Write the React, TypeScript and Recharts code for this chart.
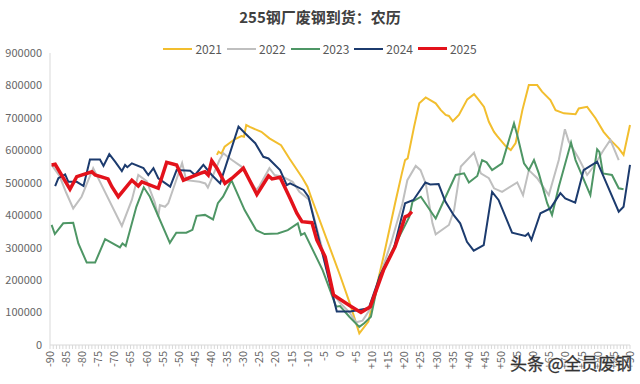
import React from 'react';
import { LineChart, Line, XAxis, YAxis } from 'recharts';

// lunar day offset vs. arrivals (thousand tonnes), vertices
const s2021: [number, number][] = [
  [-38.2, 586], [-37.7, 596], [-36.8, 590], [-35.8, 611], [-32.7, 634], [-30.6, 644], [-29.8, 642],
  [-29.1, 678], [-28, 672], [-24.4, 657], [-21.9, 637], [-18.3, 616], [-15.7, 575], [-11.6, 514],
  [-10.1, 488], [-9, 457], [0, 215], [3, 130], [6, 36], [8.8, 72], [13.5, 272], [17.1, 437],
  [19.2, 529], [20.2, 570], [21, 575], [23, 673], [24.6, 745], [26.6, 763], [29.7, 745], [31.3, 724],
  [32.8, 709], [33.8, 706], [35, 690], [36.9, 709], [39.5, 757], [41.6, 773], [43.1, 755], [44.7, 734],
  [46.2, 688], [47.8, 657], [48.8, 644], [51.4, 613], [53, 601], [54.5, 622], [56.6, 724], [58.6, 801],
  [61.2, 801], [62.7, 781], [65.3, 755], [66.9, 724], [69.5, 714], [73.1, 711], [74.1, 729], [76.7, 734],
  [79.3, 699], [81.8, 657], [83.9, 632], [86.5, 606], [88, 586], [90, 678],
];

const s2022: [number, number][] = [
  [-89.5, 555], [-87, 520], [-85, 470], [-82.8, 421], [-80.2, 457], [-76.6, 545], [-67.7, 367],
  [-64.6, 447], [-62.6, 524], [-60, 505], [-57.5, 440], [-56.4, 395], [-55.9, 431], [-54.3, 426],
  [-53.3, 437], [-49, 561], [-47.7, 508], [-43.6, 503], [-41.8, 498], [-41, 485], [-37.4, 570],
  [-36.2, 591], [-34.6, 578], [-33.2, 568], [-30.6, 550], [-26, 478], [-25, 490], [-21.9, 545],
  [-20.3, 524], [-17.8, 519], [-14.7, 503], [-12.6, 472], [-9.5, 447], [-5.4, 293], [-2.3, 159],
  [0, 130], [3, 100], [5, 70], [7, 75], [10, 120], [13, 230], [16, 320], [19.4, 437], [20.9, 508],
  [23.5, 552], [25, 539], [26.6, 498], [28.7, 375], [29.7, 341], [33.8, 370], [35.4, 416], [37.5, 550],
  [41.6, 593], [43.7, 529], [46.2, 514], [47.8, 483], [50.3, 472], [55, 501], [56.8, 462], [58.6, 539],
  [61.2, 514], [64.8, 462], [67.9, 570], [69.8, 665], [71, 627], [74.1, 575], [76.7, 524], [78.7, 550],
  [81.8, 601], [83.9, 632], [86.5, 570],
];

const s2023: [number, number][] = [
  [-89.5, 370], [-88.5, 342], [-85.9, 375], [-82.8, 377], [-81.2, 313], [-78.6, 254], [-76, 254],
  [-72.9, 326], [-68.3, 301], [-67.5, 313], [-66.5, 305], [-63.2, 426], [-60.9, 486], [-59, 457],
  [-52.8, 315], [-50.8, 346], [-47.7, 346], [-45.8, 355], [-44.5, 398], [-41.9, 401], [-39.4, 387],
  [-37.9, 437], [-36.3, 457], [-33.7, 508], [-29.6, 416], [-26, 354], [-23.4, 342], [-19.3, 344],
  [-16.2, 354], [-13.1, 375], [-12.1, 339], [-11, 345], [-5.4, 231], [-1.2, 118], [0, 120], [2.9, 87],
  [6, 56], [7.5, 67], [9.6, 87], [12.2, 210], [16.8, 303], [21.5, 395], [22.5, 442], [25.1, 457],
  [29.7, 390], [35.9, 524], [38.5, 529], [40, 501], [42.6, 521], [44.1, 570], [45.5, 563], [47.2, 539],
  [50.3, 560], [52.9, 647], [54, 683], [55, 647], [57.1, 560], [58.6, 539], [60.2, 570], [61.7, 529],
  [64.3, 437], [65.8, 401], [67.9, 488], [71.7, 624], [73.1, 570], [77.7, 462], [79.8, 603],
  [80.5, 595], [81.6, 529], [84.4, 524], [86.5, 483], [88, 480],
];

const s2024: [number, number][] = [
  [-88.4, 490], [-87.4, 514], [-85.3, 526], [-84.3, 503], [-81.7, 503], [-79.6, 490], [-77.6, 572],
  [-74.5, 572], [-73.4, 552], [-71.6, 588], [-69.8, 565], [-67.7, 536], [-66.7, 555], [-66, 548],
  [-64.6, 560], [-61, 545], [-59.5, 524], [-57.9, 545], [-56.4, 514], [-52.7, 488], [-50.7, 539],
  [-46.5, 537], [-45, 524], [-42.4, 555], [-39.8, 524], [-37.2, 498], [-31.5, 673], [-29.4, 652],
  [-26.3, 622], [-23.8, 580], [-22.2, 575], [-18.6, 539], [-16.5, 493], [-15.5, 498], [-11.3, 478],
  [-9.8, 457], [-1, 103], [3.2, 103], [8.9, 113], [12.5, 216], [16.6, 293], [20.2, 437], [22.8, 447],
  [26.5, 501], [28, 495], [30.6, 496], [32.7, 442], [35.3, 400], [37.3, 375], [39.4, 318], [41.5, 291],
  [44.6, 308], [47.2, 472], [49.2, 447], [53.4, 346], [57.5, 336], [58.4, 344], [59.4, 324],
  [62.2, 406], [65.3, 421], [68.4, 468], [69.9, 452], [73, 439], [75.6, 539], [79.8, 565], [86.5, 411],
  [88, 426], [90, 555],
];

const s2025: [number, number][] = [
  [-89.5, 555], [-88.4, 557], [-83.8, 480], [-81.7, 519], [-77, 534], [-76, 524], [-72, 512],
  [-70.8, 488], [-68.8, 457], [-64.6, 508], [-62.6, 490], [-61.5, 503], [-56.4, 483], [-53.8, 563],
  [-50.7, 555], [-48.6, 508], [-43.4, 529], [-41.9, 534], [-40.9, 524], [-39.8, 568], [-38.2, 545],
  [-35.7, 498], [-33.5, 514], [-30, 545], [-25.8, 464], [-22.2, 521], [-21.1, 512], [-18.6, 517],
  [-15.5, 452], [-13.4, 406], [-11.8, 380], [-8.7, 377], [-7.2, 324], [-4.6, 272], [-2, 154], [0, 141],
  [3.2, 120], [6.5, 100], [9.4, 118], [13.5, 231], [17.1, 303], [20.2, 395], [21.3, 400], [22.3, 411],
];

const years = ['2021', '2022', '2023', '2024', '2025'];
const seriesList = [s2021, s2022, s2023, s2024, s2025];
const colors = ['#F2BE2E', '#BFBFBF', '#4E9665', '#1C3B6E', '#E3121B'];
const widths = [2, 2, 2, 2, 3.5];

const dayTicks: number[] = [];
for (let d = -90; d <= 90; d++) dayTicks.push(d);
const valueTicks = [0, 100000, 200000, 300000, 400000, 500000, 600000, 700000, 800000, 900000];

const toPoints = (s: [number, number][]) => s.map(([day, v]) => ({ day, value: v * 1000 }));

const FONT = '"Noto Sans CJK SC", "Noto Sans", sans-serif';

const DayTick = (props: any) => {
  const { x, y, payload } = props;
  const d = payload.value;
  if (d % 5 !== 0) return <g />;
  const label = d > 0 ? `+${d}` : `${d}`;
  return (
    <text
      x={x}
      y={y}
      transform={`rotate(-90, ${x}, ${y})`}
      textAnchor="end"
      dy="0.35em"
      fontSize={11}
      fill="#666"
      fontFamily={FONT}
    >
      {label}
    </text>
  );
};

export default function App() {
  return (
    <div style={{ position: 'fixed', left: 0, top: 0, width: 640, height: 384, background: '#fff', fontFamily: FONT }}>
      <div style={{ position: 'absolute', top: 6, left: 0, width: 640, textAlign: 'center', fontSize: 15, fontWeight: 'bold', color: '#404040' }}>
        255钢厂废钢到货：农历
      </div>
      <div style={{ position: 'absolute', top: 40, left: 0, width: 640, display: 'flex', justifyContent: 'center', alignItems: 'center', fontSize: 12, color: '#595959' }}>
        {years.map((y, i) => (
          <div key={y} style={{ display: 'flex', alignItems: 'center', marginRight: i < years.length - 1 ? 5 : 0 }}>
            <div style={{ width: 29, height: i === 4 ? 3.5 : 2, background: colors[i], marginRight: 3 }} />
            <span>{y}</span>
          </div>
        ))}
      </div>
      <div style={{ position: 'absolute', left: 0, top: 0 }}>
        <LineChart width={640} height={384} margin={{ top: 53, right: 10, left: 0, bottom: 0 }}>
          <XAxis
            type="number"
            dataKey="day"
            domain={[-90, 90]}
            ticks={dayTicks}
            interval={0}
            height={39}
            tickSize={4}
            tickLine={{ stroke: '#d9d9d9' }}
            axisLine={{ stroke: '#d9d9d9' }}
            tick={<DayTick />}
          />
          <YAxis
            type="number"
            domain={[0, 900000]}
            ticks={valueTicks}
            interval={0}
            width={50}
            tickLine={false}
            axisLine={{ stroke: '#d9d9d9' }}
            tick={{ fill: '#666', fontSize: 11, fontFamily: FONT }}
          />
          {seriesList.map((s, i) => (
            <Line
              key={years[i]}
              data={toPoints(s)}
              dataKey="value"
              name={years[i]}
              type="linear"
              stroke={colors[i]}
              strokeWidth={widths[i]}
              dot={false}
              activeDot={false}
              isAnimationActive={false}
            />
          ))}
        </LineChart>
      </div>
      <div style={{ position: 'absolute', left: 510, top: 350, fontSize: 17, color: '#333', WebkitTextStroke: '0.3px #333', textShadow: '0 0 2px #fff, 0 0 2px #fff' }}>
        头条 @全员废钢
      </div>
    </div>
  );
}
